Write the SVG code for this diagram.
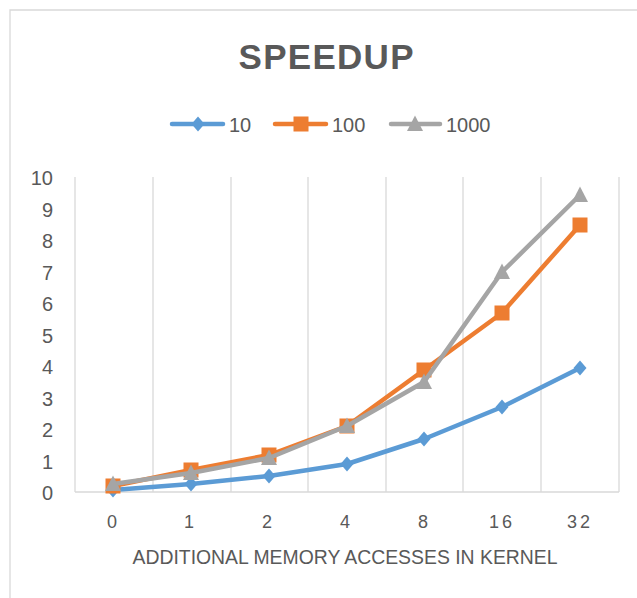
<svg xmlns="http://www.w3.org/2000/svg" width="637" height="598" viewBox="0 0 637 598">
  <style>
    .txt { font-family: "Liberation Sans", Arial, sans-serif; fill: #595959; }
    .ytick { font-size: 20px; }
    .xtick { font-size: 18px; }
    .grid { stroke: #d9d9d9; stroke-width: 1.3; }
    .s10 { stroke: #5b9bd5; fill: none; stroke-width: 4.5; stroke-linejoin: round; stroke-linecap: round; }
    .s100 { stroke: #ed7d31; fill: none; stroke-width: 4.5; stroke-linejoin: round; stroke-linecap: round; }
    .s1000 { stroke: #a5a5a5; fill: none; stroke-width: 4.5; stroke-linejoin: round; stroke-linecap: round; }
  </style>
  <defs>
    <path id="dia" d="M0,-7.5 L6.5,0 L0,7.5 L-6.5,0 Z" fill="#5b9bd5"/>
    <rect id="sq" x="-7.5" y="-7.5" width="15" height="15" fill="#ed7d31"/>
    <path id="tri" d="M0,-8.5 L8,7 L-8,7 Z" fill="#a5a5a5"/>
  </defs>
  <rect width="637" height="598" fill="#ffffff"/>
  <!-- chart frame -->
  <path d="M10,598 V10 H637" fill="none" stroke="#d9d9d9" stroke-width="1.3"/>

  <!-- title -->
  <text class="txt" x="327.5" y="69" font-size="35" font-weight="bold" letter-spacing="3" text-anchor="middle" textLength="178" lengthAdjust="spacing">SPEEDUP</text>

  <!-- legend -->
  <g id="legend">
    <line class="s10" x1="172" y1="124" x2="223" y2="124"/>
    <use href="#dia" x="198" y="124"/>
    <text class="txt" x="229" y="132" font-size="20">10</text>
    <line class="s100" x1="275" y1="124" x2="326" y2="124"/>
    <use href="#sq" x="301" y="124"/>
    <text class="txt" x="332" y="132" font-size="20">100</text>
    <line class="s1000" x1="391" y1="124" x2="440" y2="124"/>
    <use href="#tri" x="415" y="124"/>
    <text class="txt" x="446" y="132" font-size="20">1000</text>
  </g>

  <!-- gridlines -->
  <g id="grid">
    <line class="grid" x1="75" y1="177" x2="75" y2="492"/>
    <line class="grid" x1="153" y1="177" x2="153" y2="492"/>
    <line class="grid" x1="231" y1="177" x2="231" y2="492"/>
    <line class="grid" x1="308" y1="177" x2="308" y2="492"/>
    <line class="grid" x1="386" y1="177" x2="386" y2="492"/>
    <line class="grid" x1="463" y1="177" x2="463" y2="492"/>
    <line class="grid" x1="541" y1="177" x2="541" y2="492"/>
    <line class="grid" x1="619" y1="177" x2="619" y2="492"/>
    <line class="grid" x1="75" y1="492" x2="619" y2="492"/>
  </g>

  <!-- y axis labels -->
  <g id="yaxis" class="txt ytick" text-anchor="end">
    <text x="53" y="500">0</text>
    <text x="53" y="468.5">1</text>
    <text x="53" y="437">2</text>
    <text x="53" y="405.5">3</text>
    <text x="53" y="374">4</text>
    <text x="53" y="342.5">5</text>
    <text x="53" y="311">6</text>
    <text x="53" y="279.5">7</text>
    <text x="53" y="248">8</text>
    <text x="53" y="216.5">9</text>
    <text x="53" y="185">10</text>
  </g>

  <!-- x axis labels -->
  <g id="xaxis" class="txt xtick" text-anchor="middle">
    <text x="112" y="528">0</text>
    <text x="189" y="528">1</text>
    <text x="267" y="528">2</text>
    <text x="345" y="528">4</text>
    <text x="423" y="528">8</text>
    <text x="502" y="528" letter-spacing="3">16</text>
    <text x="580" y="528" letter-spacing="3">32</text>
  </g>
  <text class="txt" x="345" y="564" font-size="19.5" text-anchor="middle" textLength="425" lengthAdjust="spacingAndGlyphs">ADDITIONAL MEMORY ACCESSES IN KERNEL</text>

  <!-- series -->
  <g id="series-10">
    <polyline class="s10" points="113,490 191,484 269,476 347,464 424,439 502,407 580,368"/>
    <use href="#dia" x="113" y="490"/>
    <use href="#dia" x="191" y="484"/>
    <use href="#dia" x="269" y="476"/>
    <use href="#dia" x="347" y="464"/>
    <use href="#dia" x="424" y="439"/>
    <use href="#dia" x="502" y="407"/>
    <use href="#dia" x="580" y="368"/>
  </g>
  <g id="series-100">
    <polyline class="s100" points="113,486 191,470 269,455 347,426 424,370 502,313 580,225"/>
    <use href="#sq" x="113" y="486"/>
    <use href="#sq" x="191" y="470"/>
    <use href="#sq" x="269" y="455"/>
    <use href="#sq" x="347" y="426"/>
    <use href="#sq" x="424" y="370"/>
    <use href="#sq" x="502" y="313"/>
    <use href="#sq" x="580" y="225"/>
  </g>
  <g id="series-1000">
    <polyline class="s1000" points="113,484 191,473 269,458 347,426 424,382 502,272 580,195"/>
    <use href="#tri" x="113" y="484"/>
    <use href="#tri" x="191" y="473"/>
    <use href="#tri" x="269" y="458"/>
    <use href="#tri" x="347" y="426"/>
    <use href="#tri" x="424" y="382"/>
    <use href="#tri" x="502" y="272"/>
    <use href="#tri" x="580" y="195"/>
  </g>
</svg>
